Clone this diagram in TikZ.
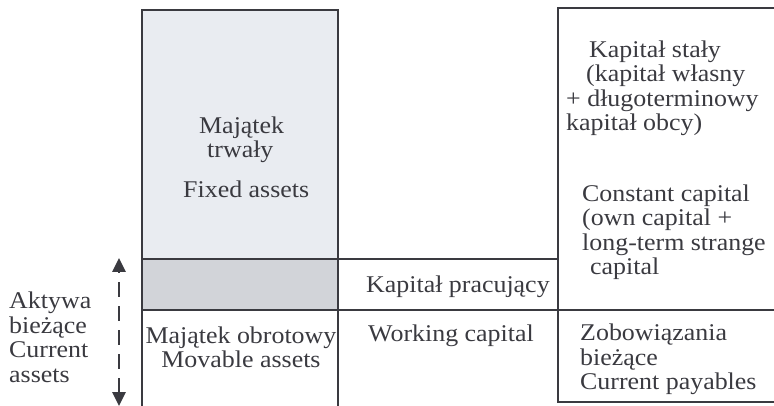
\documentclass[tikz,border=0pt]{standalone}
\usepackage{fontspec}
\setmainfont{Liberation Serif}[FakeStretch=1.08]
\usetikzlibrary{positioning}
\usetikzlibrary{arrows.meta}
\definecolor{inkgrey}{RGB}{58,58,64}
\definecolor{fixedfill}{RGB}{233,236,241}
\definecolor{bandfill}{RGB}{210,212,217}

\begin{document}
\begin{tikzpicture}[x=1pt, y=-1pt,
    txt/.style={inner sep=0pt, text=inkgrey, align=left, anchor=west,
      font=\fontsize{24}{24.5}\selectfont},
    rule/.style={draw=inkgrey, line width=1.6pt},
    arrow/.style={{Triangle[width=13pt,length=14pt]}-{Triangle[width=13pt,length=14pt]},
      draw=inkgrey, line width=2.8pt, dash pattern=on 15pt off 9pt},
    ]

    \useasboundingbox (0,0) rectangle (774,406);

    % Shaded areas
    \fill [fixedfill] (142,10) rectangle (338,259);
    \fill [bandfill] (142,259) rectangle (338,310);

    % Assets column
    \draw [rule] (142,406) -- (142,10) -- (338,10) -- (338,406);
    \draw [rule] (142,259) -- (558,259);
    \draw [rule] (142,310) -- (774,310);

    % Capital column
    \draw [rule] (774,8) -- (558,8) -- (558,402) -- (774,402);

    % Fixed assets
    \node [txt] (fixedpl) at (199,140) {Majątek\\\hspace*{8pt}trwały};
    \node [txt, below right=17pt and -16pt of fixedpl.south west, anchor=north west]
      (fixeden) {Fixed assets};

    % Movable assets
    \node [txt, align=center, anchor=center] (movable) at (241,347.5)
      {Majątek obrotowy\\Movable assets};

    % Working capital
    \node [txt] (workpl) at (366,286.5) {Kapitał pracujący};
    \node [txt] (worken) at (368,335.5) {Working capital};

    % Constant capital
    \node [txt] (constpl) at (566,88.5)
      {\hspace*{23pt}Kapitał stały\\\hspace*{20pt}(kapitał własny\\+ długoterminowy\\kapitał obcy)};
    \node [txt] (consten) at (582,232)
      {Constant capital\\(own capital +\\long-term strange\\\hspace*{8pt}capital};

    % Current payables
    \node [txt] (payables) at (580,359.5) {Zobowiązania\\bieżące\\Current payables};

    % Current assets
    \node [txt] (current) at (9,337.5) {Aktywa\\bieżące\\Current\\assets};
    \coordinate (up) at (119,258);
    \coordinate (down) at (119,406);
    \draw [arrow] (down) -- (up);

\end{tikzpicture}
\end{document}
